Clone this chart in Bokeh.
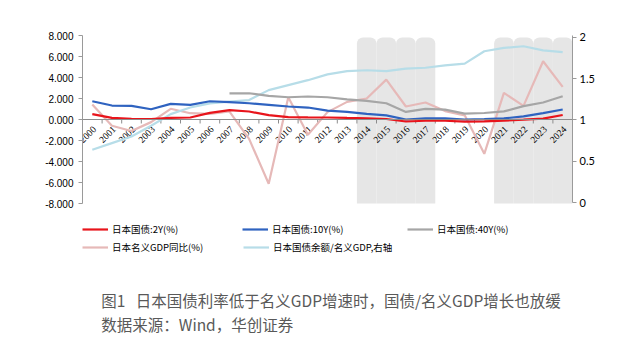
import math
from bokeh.plotting import figure
from bokeh.layouts import column
from bokeh.models import (Range1d, LinearAxis, FixedTicker, NumeralTickFormatter,
                          Span, Legend, LegendItem, Label, ColumnDataSource)
from bokeh.core.properties import value
from bokeh.embed import file_html
from bokeh.resources import INLINE

nan = float("nan")

years = ["2000", "2001", "2002", "2003", "2004", "2005", "2006", "2007", "2008",
         "2009", "2010", "2011", "2012", "2013", "2014", "2015", "2016", "2017",
         "2018", "2019", "2020", "2021", "2022", "2023", "2024"]

jgb_2y = [0.51, 0.16, 0.07, 0.05, 0.16, 0.19, 0.63, 0.89, 0.76, 0.41, 0.22, 0.20,
          0.19, 0.15, 0.12, 0.05, -0.19, -0.12, -0.12, -0.20, -0.18, -0.10, -0.02,
          0.08, 0.43]
jgb_10y = [1.74, 1.33, 1.30, 0.98, 1.49, 1.40, 1.74, 1.65, 1.55, 1.40, 1.24, 1.14,
           0.85, 0.72, 0.54, 0.40, 0.00, 0.10, 0.10, 0.00, 0.03, 0.10, 0.30, 0.60,
           0.95]
jgb_40y = [nan, nan, nan, nan, nan, nan, nan, 2.48, 2.50, 2.25, 2.12, 2.19, 2.12,
           1.92, 1.78, 1.55, 0.72, 1.02, 0.94, 0.56, 0.62, 0.77, 1.27, 1.62, 2.22]
gdp_yoy = [1.43, -0.60, -1.10, -0.25, 1.02, 0.60, 0.54, 0.76, -1.84, -6.12, 2.12,
           -1.45, 0.70, 1.68, 2.00, 3.80, 1.24, 1.62, 0.80, 0.40, -3.27, 2.53, 1.30,
           5.55, 3.10]
debt_gdp = [0.64, 0.72, 0.80, 0.93, 1.07, 1.15, 1.20, 1.22, 1.24, 1.36, 1.42, 1.48,
            1.55, 1.59, 1.60, 1.59, 1.62, 1.63, 1.66, 1.68, 1.83, 1.87, 1.89, 1.84,
            1.82]
shaded_years = ["2014", "2015", "2016", "2017", "2021", "2022", "2023", "2024"]

left_ticks = [-8, -6, -4, -2, 0, 2, 4, 6, 8]
right_ticks = [0, 0.5, 1, 1.5, 2]

names = ["日本国债:2Y(%)", "日本国债:10Y(%)", "日本国债:40Y(%)",
         "日本名义GDP同比(%)", "日本国债余额/名义GDP,右轴"]
caption1 = "图1\u00a0\u00a0\u00a0日本国债利率低于名义GDP增速时，国债/名义GDP增长也放缓"
caption2 = "数据来源：Wind，华创证券"

idx = list(range(len(years)))

# ---- layout geometry (pixels) ----
W = 626
TOP = 35          # top of data area
DATA_BOTTOM = 203  # bottom of data area (y = -8)
FRAME_BOTTOM = 286  # frame extended downwards to host the legend
LEFT = 82
RIGHT_BORDER = 54

left_lo, left_hi = -8.0, 8.0
r_lo, r_hi = -0.01, 2.02
extra = (FRAME_BOTTOM - DATA_BOTTOM) / (DATA_BOTTOM - TOP)

p = figure(width=W, height=FRAME_BOTTOM, output_backend="svg", toolbar_location=None,
           x_range=Range1d(-0.5, len(years) - 0.5),
           y_range=Range1d(left_lo - extra * (left_hi - left_lo), left_hi),
           x_axis_location=None,
           min_border_left=LEFT, min_border_right=RIGHT_BORDER, min_border_top=TOP,
           min_border_bottom=0)
p.outline_line_color = None
p.xgrid.visible = False
p.ygrid.visible = False
p.background_fill_color = "white"
p.border_fill_color = "white"

p.extra_y_ranges = {"r": Range1d(r_lo - extra * (r_hi - r_lo), r_hi)}

# shaded periods
sx = [years.index(y) for y in shaded_years]
p.vbar(x=sx, width=1.0, bottom=left_lo, top=7.8, fill_color="#e6e6e6",
       line_color=None, border_radius=(6, 6, 0, 0))

# zero line and category boundary ticks
p.add_layout(Span(location=0, dimension="width", line_color="#8c8c8c", line_width=1))
bx = [i + 0.5 for i in idx[:-1]]
p.segment(x0=bx, y0=[0] * len(bx), x1=bx, y1=[-0.38] * len(bx),
          line_color="#8c8c8c", line_width=1)

# category labels along the zero line
src_lbl = ColumnDataSource(dict(x=idx, y=[0] * len(idx), t=years))
p.text(x="x", y="y", text="t", source=src_lbl, angle=math.pi / 4,
       text_align="right", text_baseline="middle", x_offset=2, y_offset=8,
       text_font=value("Liberation Serif"), text_font_size="9.5px",
       text_color="#000000")

lw = 2.2
r_gdp = p.line(idx, gdp_yoy, line_color="#e6b9b8", line_width=lw)
r_debt = p.line(idx, debt_gdp, line_color="#b7dde8", line_width=lw, y_range_name="r")
r_40 = p.line(idx, jgb_40y, line_color="#a6a6a6", line_width=lw)
r_10 = p.line(idx, jgb_10y, line_color="#2f63c0", line_width=lw)
r_2 = p.line(idx, jgb_2y, line_color="#e8141b", line_width=lw)

# left axis
ya = p.yaxis[0]
ya.ticker = FixedTicker(ticks=left_ticks)
ya.formatter = NumeralTickFormatter(format="0.000")
ya.bounds = (left_lo, left_hi)
ya.minor_tick_line_color = None
ya.major_tick_in = 0
ya.major_tick_out = 4
ya.axis_line_color = "#9a9a9a"
ya.major_tick_line_color = "#9a9a9a"
ya.major_label_text_font = "Liberation Sans"
ya.major_label_text_font_size = "10px"
ya.major_label_text_color = "#000000"
ya.major_label_standoff = 5

# right axis
ra = LinearAxis(y_range_name="r", ticker=FixedTicker(ticks=right_ticks),
                formatter=NumeralTickFormatter(format="0.[0]"),
                bounds=(0, r_hi))
ra.minor_tick_line_color = None
ra.major_tick_in = 0
ra.major_tick_out = 4
ra.axis_line_color = "#9a9a9a"
ra.major_tick_line_color = "#9a9a9a"
ra.major_label_text_font = "Lato"
ra.major_label_text_font_size = "11px"
ra.major_label_text_color = "#000000"
ra.major_label_standoff = 3
p.add_layout(ra, "right")

# legends: one per entry, placed under the data area (inside the frame)
leg_specs = [
    (names[0], r_2, 82, 230),
    (names[1], r_10, 242, 230),
    (names[2], r_40, 407, 230),
    (names[3], r_gdp, 82, 248),
    (names[4], r_debt, 243, 248),
]
for label, rend, px, py in leg_specs:
    lg = Legend(items=[LegendItem(label=label, renderers=[rend])],
                location=(px - LEFT, FRAME_BOTTOM - (py + 6)),
                orientation="horizontal",
                glyph_width=26, glyph_height=12, label_height=12,
                label_standoff=4, padding=0, margin=0, spacing=0,
                border_line_color=None, background_fill_alpha=0,
                label_text_font="Noto Sans CJK SC", label_text_font_size="9.5px",
                label_text_color="#000000")
    p.add_layout(lg, "center")

# caption area
CAP_H = 351 - FRAME_BOTTOM
p2 = figure(width=W, height=CAP_H, output_backend="svg", toolbar_location=None,
            x_range=Range1d(0, W), y_range=Range1d(0, CAP_H),
            x_axis_location=None, y_axis_location=None, min_border=0)
p2.outline_line_color = None
p2.xgrid.visible = False
p2.ygrid.visible = False
p2.border_fill_color = "white"
for txt, cy in [(caption1, 299), (caption2, 323)]:
    p2.add_layout(Label(x=24, y=CAP_H - (cy - FRAME_BOTTOM), text=txt,
                        text_font="Noto Sans CJK SC", text_font_size="15.5px",
                        text_color="#595959", text_baseline="middle"))

layout = column(p, p2, spacing=0)
open("out.html", "w").write(file_html(layout, INLINE))
